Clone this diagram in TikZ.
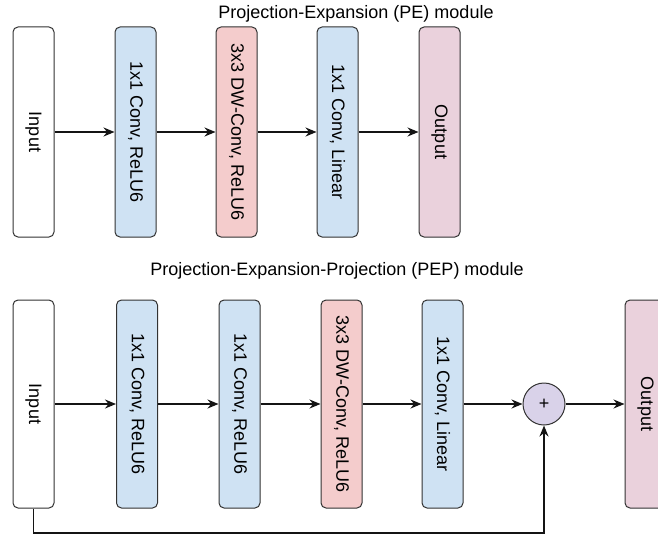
\documentclass[tikz,border=0pt]{standalone}
\usepackage{fontspec}
\setmainfont{Liberation Sans}
\usepackage{tikz}
\usetikzlibrary{arrows.meta, positioning}
\definecolor{mydark}{RGB}{20,20,20}
\definecolor{mystroke}{RGB}{50,50,50}
\definecolor{hdrblue}{RGB}{207,226,243}
\definecolor{hdrred}{RGB}{244,204,204}
\definecolor{hdrpink}{RGB}{234,209,220}
\definecolor{hdrpurple}{RGB}{217,210,233}
\tikzset{
  block/.style={rectangle, draw=mystroke, fill=white, rotate=-90,
    minimum width=210pt, minimum height=41pt, inner sep=0pt,
    font=\fontsize{18}{21}\selectfont, rounded corners=5pt, line width=1pt},
  blueblock/.style={block, fill=hdrblue},
  redblock/.style={block, fill=hdrred},
  outblock/.style={block, fill=hdrpink},
  sumjunc/.style={circle, draw=mystroke, fill=hdrpurple,
    minimum size=42pt, inner sep=0pt, font=\fontsize{18}{20}\selectfont, line width=1pt},
  title/.style={font=\fontsize{18}{21}\selectfont},
  arrow/.style={-{Stealth[length=11pt, width=9pt]}, line width=1.6pt, color=mydark},
  line/.style={line width=1.6pt, color=mydark}
}

\begin{document}
\begin{tikzpicture}[x=1pt, y=1pt]
  \clip (0,0) rectangle (658,-535);

  % PE module
  \node[title] (petitle) at (356,-14) {Projection-Expansion (PE) module};
  \node[block]     (pein)  at (33.5,-132)  {Input};
  \node[blueblock] (peone) at (135.5,-132) {1x1 Conv, ReLU6};
  \node[redblock]  (pedw)  at (236.5,-132) {3x3 DW-Conv, ReLU6};
  \node[blueblock] (pelin) at (337.5,-132) {1x1 Conv, Linear};
  \node[outblock]  (peout) at (439.5,-132) {Output};
  \draw[arrow] (pein) -- (peone);
  \draw[arrow] (peone) -- (pedw);
  \draw[arrow] (pedw) -- (pelin);
  \draw[arrow] (pelin) -- (peout);

  % PEP module
  \node[title] (peptitle) at (337,-271) {Projection-Expansion-Projection (PEP) module};
  \begin{scope}[block/.append style={minimum width=208pt}]
    \node[block]     (pepin)  at (33.5,-404)  {Input};
    \node[blueblock] (pepone) at (137,-404)   {1x1 Conv, ReLU6};
    \node[blueblock] (peptwo) at (239.5,-404) {1x1 Conv, ReLU6};
    \node[redblock]  (pepdw)  at (341.5,-404) {3x3 DW-Conv, ReLU6};
    \node[blueblock] (peplin) at (442.5,-404) {1x1 Conv, Linear};
    \node[sumjunc]   (pepsum) at (544,-404)   {+};
    \node[outblock]  (pepout) at (645.5,-404) {Output};
  \end{scope}
  \draw[arrow] (pepin) -- (pepone);
  \draw[arrow] (pepone) -- (peptwo);
  \draw[arrow] (peptwo) -- (pepdw);
  \draw[arrow] (pepdw) -- (peplin);
  \draw[arrow] (peplin) -- (pepsum);
  \draw[arrow] (pepsum) -- (pepout);

  % skip connection
  \coordinate (skipcorner) at (33.5,-533);
  \draw[arrow, rounded corners=0pt] (pepin.east) -- (skipcorner) -| (pepsum.south);
\end{tikzpicture}
\end{document}
